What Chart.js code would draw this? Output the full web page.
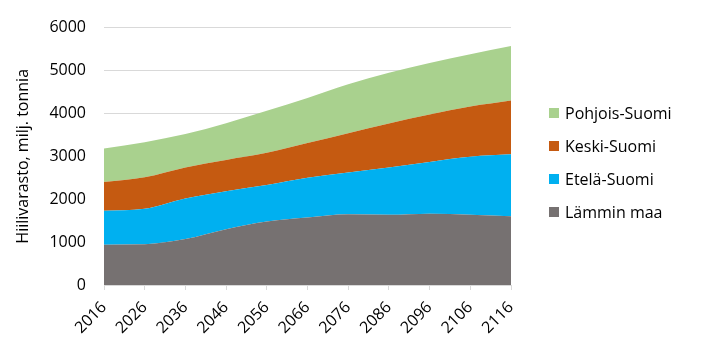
<!DOCTYPE html>
<html>
<head>
<meta charset="utf-8">
<script src="https://cdn.jsdelivr.net/npm/chart.js@4/dist/chart.umd.min.js"></script>
<style>
  html, body { margin: 0; padding: 0; background: #fff; }
  #wrap { position: relative; width: 708px; height: 358px; }
  #legend { position: absolute; left: 549px; top: 96px; font-family: "Open Sans", sans-serif; font-size: 16px; color: #000; }
  .item { display: flex; align-items: center; height: 33px; }
  .box { width: 10px; height: 10px; margin-right: 6px; }
</style>
</head>
<body>
<div id="wrap">
  <canvas id="chart" width="708" height="358"></canvas>
  <div id="legend"></div>
</div>
<script>
// years on the x axis
const years = ["2016", "2026", "2036", "2046", "2056", "2066", "2076", "2086", "2096", "2106", "2116"];

// carbon stock per region, million tonnes (stacked, bottom first)
const lamminMaa = [940, 950, 1070, 1300, 1480, 1575, 1650, 1635, 1660, 1640, 1605];
const etelaSuomi = [790, 825, 945, 885, 850, 925, 975, 1105, 1210, 1350, 1440];
const keskiSuomi = [670, 735, 725, 730, 750, 810, 915, 1027, 1103, 1170, 1255];
const pohjoisSuomi = [780, 820, 780, 855, 980, 1050, 1140, 1180, 1202, 1220, 1270];

const yTicks = [0, 1000, 2000, 3000, 4000, 5000, 6000];

const series = [
    { label: "Lämmin maa", data: lamminMaa, color: "#767171" },
    { label: "Etelä-Suomi", data: etelaSuomi, color: "#00b0f0" },
    { label: "Keski-Suomi", data: keskiSuomi, color: "#c55a11" },
    { label: "Pohjois-Suomi", data: pohjoisSuomi, color: "#a9d18e" },
];

const FONT = "'Open Sans', sans-serif";

const datasets = series.map((s, i) => ({
    label: s.label,
    data: s.data,
    backgroundColor: s.color,
    borderColor: s.color,
    borderWidth: 0,
    pointRadius: 0,
    fill: i === 0 ? "origin" : "-1",
    tension: 0.3,
    cubicInterpolationMode: "monotone",
}));

new Chart(document.getElementById("chart").getContext("2d"), {
    type: "line",
    data: { labels: years, datasets },
    options: {
        responsive: false,
        animation: false,
        layout: { padding: { left: 0, right: 197, top: 22, bottom: 0 } },
        plugins: {
            legend: { display: false },
            tooltip: { enabled: false },
        },
        scales: {
            x: {
                offset: false,
                grid: { drawOnChartArea: false, drawTicks: true, tickLength: 5, color: "#d9d9d9" },
                border: { color: "#d9d9d9" },
                ticks: {
                    color: "#000",
                    font: { family: FONT, size: 16 },
                    maxRotation: 45,
                    minRotation: 45,
                    autoSkip: false,
                    padding: 8,
                },
                afterFit: (scale) => { scale.height = 73; },
            },
            y: {
                stacked: true,
                min: 0,
                max: 6000,
                afterBuildTicks: (scale) => { scale.ticks = yTicks.map((v) => ({ value: v })); },
                grid: { color: "#d9d9d9", drawTicks: false },
                border: { display: false },
                ticks: {
                    color: "#000",
                    font: { family: FONT, size: 16 },
                    padding: 18,
                    callback: (v) => String(v),
                },
                title: {
                    display: true,
                    text: "Hiilivarasto, milj. tonnia",
                    color: "#000",
                    font: { family: FONT, size: 16 },
                    padding: { top: 14, bottom: 0 },
                },
                afterFit: (scale) => { scale.width = 104; },
            },
        },
    },
});

// legend, top item is the top layer
const legendEl = document.getElementById("legend");
series.slice().reverse().forEach((s) => {
    const row = document.createElement("div");
    row.className = "item";
    const box = document.createElement("span");
    box.className = "box";
    box.style.background = s.color;
    const txt = document.createElement("span");
    txt.textContent = s.label;
    row.appendChild(box);
    row.appendChild(txt);
    legendEl.appendChild(row);
});
</script>
</body>
</html>
